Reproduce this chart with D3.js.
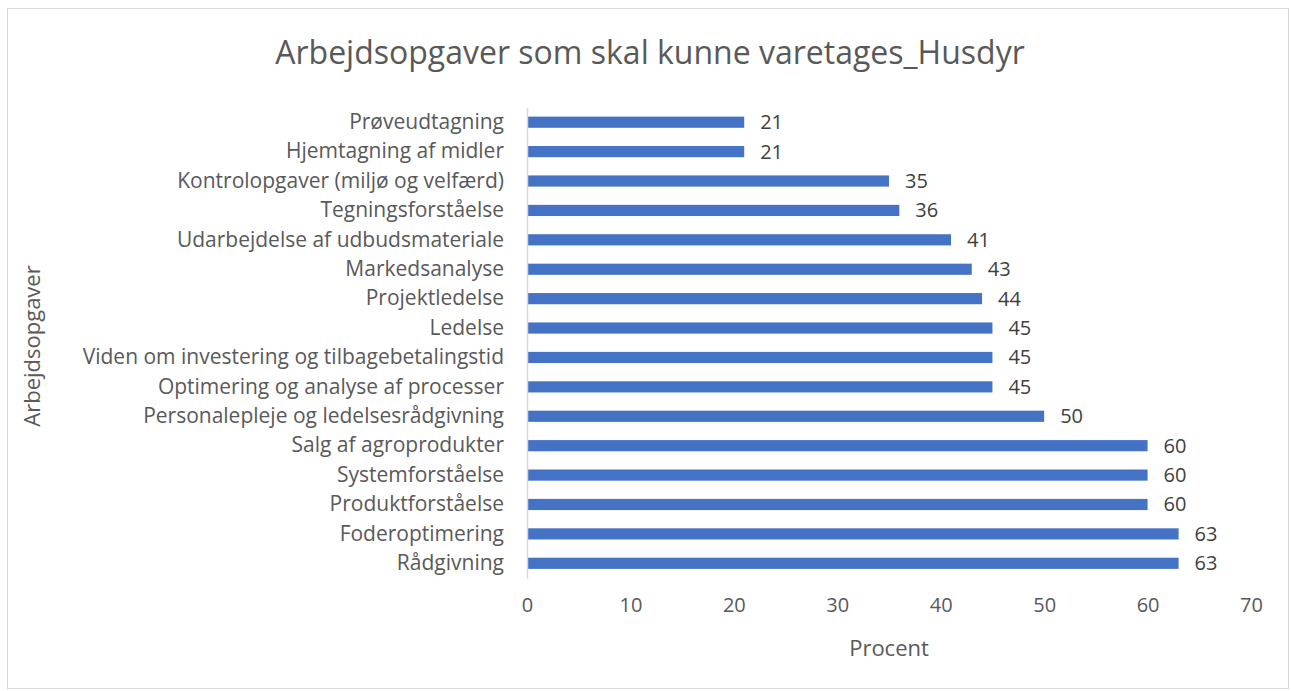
<!DOCTYPE html>
<html>
<head>
<meta charset="utf-8">
<script src="https://cdn.jsdelivr.net/npm/d3@7"></script>
<style>
  body { margin: 0; background: #fff; }
  text { font-family: "Open Sans", sans-serif; fill: #595959; }
</style>
</head>
<body>
<script>
// Data
let categories = [
  "Prøveudtagning",
  "Hjemtagning af midler",
  "Kontrolopgaver (miljø og velfærd)",
  "Tegningsforståelse",
  "Udarbejdelse af udbudsmateriale",
  "Markedsanalyse",
  "Projektledelse",
  "Ledelse",
  "Viden om investering og tilbagebetalingstid",
  "Optimering og analyse af processer",
  "Personalepleje og ledelsesrådgivning",
  "Salg af agroprodukter ",
  "Systemforståelse",
  "Produktforståelse",
  "Foderoptimering",
  "Rådgivning"
];
let values = [21, 21, 35, 36, 41, 43, 44, 45, 45, 45, 50, 60, 60, 60, 63, 63];
let xTicks = [0, 10, 20, 30, 40, 50, 60, 70];

function drawChart() {
  let width = 1291;
  let height = 691;

  let svg = d3.select("body")
    .append("svg")
    .attr("width", width)
    .attr("height", height);

  // chart border
  svg.append("rect")
    .attr("x", 7.5).attr("y", 8.5)
    .attr("width", 1281).attr("height", 680)
    .attr("fill", "#fff")
    .attr("stroke", "#d9d9d9");

  let x = d3.scaleLinear().domain([0, 70]).range([527, 1251]);
  let y = d3.scaleBand().domain(categories).range([107.5, 578]).paddingInner(0.62).paddingOuter(0.31);

  // title
  svg.append("text")
    .attr("x", 650).attr("y", 64)
    .attr("text-anchor", "middle")
    .style("font-size", "32px")
    .text("Arbejdsopgaver som skal kunne varetages_Husdyr");

  // bars
  svg.selectAll("rect.bar")
    .data(values)
    .enter()
    .append("rect")
    .attr("class", "bar")
    .attr("x", x(0))
    .attr("y", (d, i) => y(categories[i]))
    .attr("width", d => x(d) - x(0))
    .attr("height", y.bandwidth())
    .attr("fill", "#4472C4");

  // value labels
  svg.selectAll("text.val")
    .data(values)
    .enter()
    .append("text")
    .attr("class", "val")
    .attr("x", d => x(d) + 16)
    .attr("y", (d, i) => y(categories[i]) + y.bandwidth() / 2)
    .attr("dy", "0.35em")
    .style("font-size", "20px")
    .style("fill", "#404040")
    .text(d => d);

  // y axis
  let yAxis = svg.append("g")
    .attr("transform", `translate(${x(0)},0)`)
    .call(d3.axisLeft(y).tickSize(0).tickPadding(23));
  yAxis.select(".domain").attr("stroke", "#d9d9d9").attr("stroke-width", 1.5);
  yAxis.selectAll("text").style("font-size", "21px").style("font-family", "Open Sans, sans-serif").attr("fill", "#595959");

  // x axis
  let xAxis = svg.append("g")
    .attr("transform", "translate(0,578)")
    .call(d3.axisBottom(x).tickValues(xTicks).tickSize(0).tickPadding(20));
  xAxis.select(".domain").remove();
  xAxis.selectAll("text").style("font-size", "20px").style("font-family", "Open Sans, sans-serif").attr("fill", "#595959");

  // axis titles
  svg.append("text")
    .attr("x", 889).attr("y", 656)
    .attr("text-anchor", "middle")
    .style("font-size", "22px")
    .text("Procent");

  svg.append("text")
    .attr("transform", "translate(40,346) rotate(-90)")
    .attr("text-anchor", "middle")
    .style("font-size", "22px")
    .text("Arbejdsopgaver");
}

drawChart();
</script>
</body>
</html>
